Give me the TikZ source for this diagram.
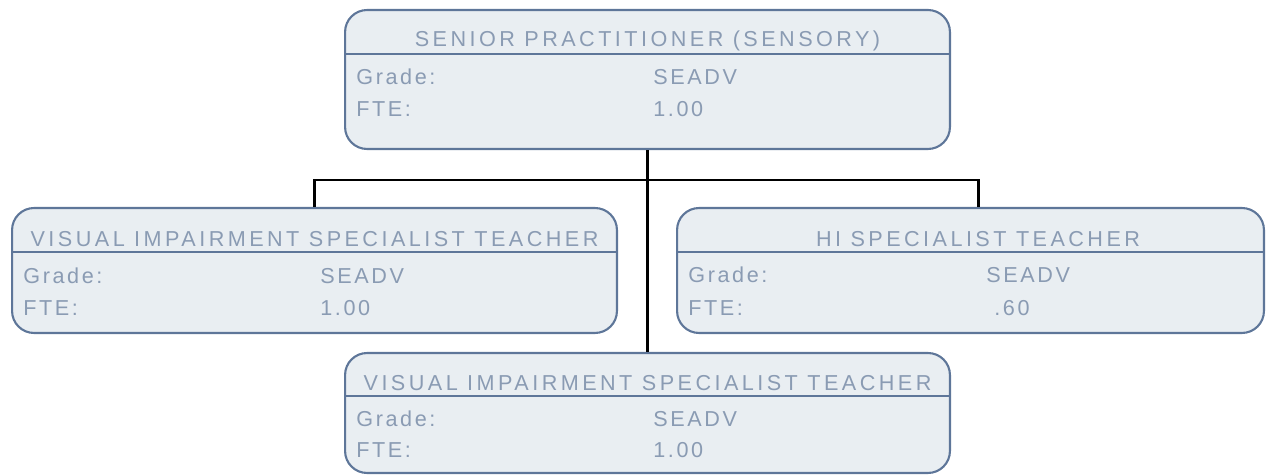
\documentclass[tikz,border=0pt]{standalone}
\usepackage{fontspec}
\setmainfont{Liberation Sans}[LetterSpace=12]
\newfontfamily\titlefont{Liberation Sans}[LetterSpace=16]
\usepackage{xcolor}
\definecolor{boxLine}{HTML}{5E7699}
\definecolor{boxBack}{HTML}{E9EEF2}
\definecolor{boxText}{HTML}{8A9BB3}
\usetikzlibrary{positioning, calc}
\tikzset{
    postbox/.style={rectangle, rounded corners=0.44cm, draw=boxLine,
                    line width=1.2pt, fill=boxBack, inner sep=0pt},
    posttitle/.style={anchor=base, inner sep=0pt, text=boxText,
                      font=\titlefont\fontsize{12.3}{14}\selectfont},
    postfield/.style={anchor=base west, inner sep=0pt, text=boxText,
                      font=\fontsize{12.3}{14}\selectfont},
    divider/.style={draw=boxLine, line width=1.2pt},
    link/.style={-, line width=1.4pt, black},
}

\begin{document}
\begin{tikzpicture}[x=0.02cm, y=-0.02cm]
    \useasboundingbox (0,0) rectangle (1266,475);
    % boxes
    \node[postbox, minimum width=12.1cm, minimum height=2.78cm] (sp) at (647.5,79.5) {};
    \node[postbox, minimum width=12.1cm, minimum height=2.5cm] (vil) at (314.5,270.5) {};
    \node[postbox, minimum width=11.74cm, minimum height=2.5cm] (hi) at (970.5,270.5) {};
    \node[postbox, minimum width=12.1cm, minimum height=2.4cm] (vib) at (647.5,413) {};
    % connectors
    \coordinate (bus) at (647,180);
    \draw[link] (sp.south) -- (vib.north);
    \draw[link] (vil.north) |- (bus) -| ([xshift=0.16cm]hi.north);
    % header lines
    \draw[divider] ([yshift=-0.9cm]sp.north west) -- ([yshift=-0.9cm]sp.north east);
    \draw[divider] ([yshift=-0.9cm]vil.north west) -- ([yshift=-0.9cm]vil.north east);
    \draw[divider] ([yshift=-0.9cm]hi.north west) -- ([yshift=-0.9cm]hi.north east);
    \draw[divider] ([yshift=-0.88cm]vib.north west) -- ([yshift=-0.88cm]vib.north east);
    % senior practitioner
    \node[posttitle] (spT) at ([yshift=-0.76cm]sp.north) {SENIOR PRACTITIONER (SENSORY)};
    \node[postfield] (spG) at ([xshift=0.24cm, yshift=-1.52cm]sp.north west) {Grade:};
    \node[postfield] (spGv) at ([xshift=6.18cm, yshift=-1.52cm]sp.north west) {SEADV};
    \node[postfield] (spF) at ([xshift=0.24cm, yshift=-2.16cm]sp.north west) {FTE:};
    \node[postfield] (spFv) at ([xshift=6.18cm, yshift=-2.16cm]sp.north west) {1.00};
    % visual impairment, left
    \node[posttitle] (vilT) at ([yshift=-0.8cm]vil.north) {VISUAL IMPAIRMENT SPECIALIST TEACHER};
    \node[postfield] (vilG) at ([xshift=0.24cm, yshift=-1.54cm]vil.north west) {Grade:};
    \node[postfield] (vilGv) at ([xshift=6.18cm, yshift=-1.54cm]vil.north west) {SEADV};
    \node[postfield] (vilF) at ([xshift=0.24cm, yshift=-2.18cm]vil.north west) {FTE:};
    \node[postfield] (vilFv) at ([xshift=6.18cm, yshift=-2.18cm]vil.north west) {1.00};
    % hi
    \node[posttitle] (hiT) at ([xshift=0.15cm, yshift=-0.8cm]hi.north) {HI SPECIALIST TEACHER};
    \node[postfield] (hiG) at ([xshift=0.24cm, yshift=-1.52cm]hi.north west) {Grade:};
    \node[postfield] (hiGv) at ([xshift=6.2cm, yshift=-1.52cm]hi.north west) {SEADV};
    \node[postfield] (hiF) at ([xshift=0.24cm, yshift=-2.18cm]hi.north west) {FTE:};
    \node[postfield] (hiFv) at ([xshift=6.36cm, yshift=-2.18cm]hi.north west) {.60};
    % visual impairment, bottom
    \node[posttitle] (vibT) at ([yshift=-0.77cm]vib.north) {VISUAL IMPAIRMENT SPECIALIST TEACHER};
    \node[postfield] (vibG) at ([xshift=0.24cm, yshift=-1.5cm]vib.north west) {Grade:};
    \node[postfield] (vibGv) at ([xshift=6.18cm, yshift=-1.5cm]vib.north west) {SEADV};
    \node[postfield] (vibF) at ([xshift=0.24cm, yshift=-2.12cm]vib.north west) {FTE:};
    \node[postfield] (vibFv) at ([xshift=6.18cm, yshift=-2.12cm]vib.north west) {1.00};
\end{tikzpicture}
\end{document}
